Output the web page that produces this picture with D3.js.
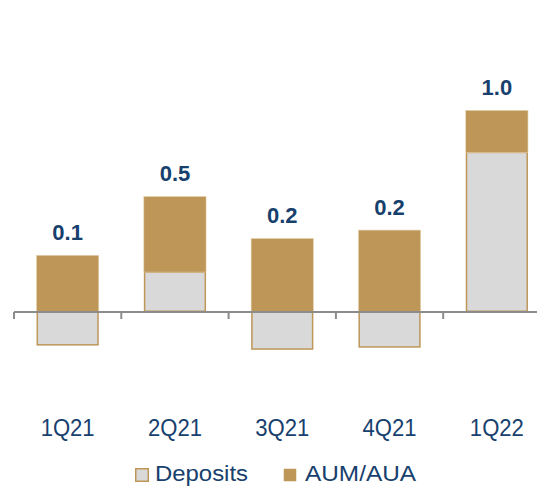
<!DOCTYPE html>
<html>
<head>
<meta charset="utf-8">
<script src="https://cdn.jsdelivr.net/npm/d3@7"></script>
<style>
  html, body { margin: 0; padding: 0; background: #fff; }
  svg { display: block; }
</style>
</head>
<body>
<svg id="chart" width="537" height="488"></svg>
<script>
const categories = ["1Q21", "2Q21", "3Q21", "4Q21", "1Q22"];
const deposits = [-0.16, 0.19, -0.18, -0.17, 0.76];
const aumAua = [0.27, 0.36, 0.35, 0.39, 0.20];
const totalLabels = ["0.1", "0.5", "0.2", "0.2", "1.0"];
const seriesNames = ["Deposits", "AUM/AUA"];

const W = 537, H = 488;
const navy = "#17406d";
const gold = "#bd9658";
const grey = "#d9d9d9";
const axisGrey = "#8c8c8c";

const svg = d3.select("#chart");

const x = d3.scaleBand().domain(categories).range([14, 550.5]).paddingInner(0.42).paddingOuter(0.21);
const y = d3.scaleLinear().domain([-0.4, 1.2]).range([396, 60]);

const rows = categories.map((c, i) => ({ c, dep: deposits[i], aum: aumAua[i], label: totalLabels[i] }));

// Deposits bars
svg.append("g").selectAll("rect").data(rows).join("rect")
  .attr("x", d => x(d.c) + 0.75)
  .attr("width", x.bandwidth() - 1.5)
  .attr("y", d => d.dep >= 0 ? y(d.dep) : y(0))
  .attr("height", d => Math.abs(y(d.dep) - y(0)) - 0.75)
  .attr("fill", grey)
  .attr("stroke", gold)
  .attr("stroke-width", 1.5);

// AUM/AUA bars stacked on positive deposits
svg.append("g").selectAll("rect").data(rows).join("rect")
  .attr("x", d => x(d.c))
  .attr("width", x.bandwidth())
  .attr("y", d => y(Math.max(0, d.dep) + d.aum))
  .attr("height", d => y(Math.max(0, d.dep)) - y(Math.max(0, d.dep) + d.aum))
  .attr("fill", gold)
  .attr("stroke", "#e6d2b0")
  .attr("stroke-width", 0.6);

// Zero axis line
svg.append("line")
  .attr("x1", x.range()[0]).attr("x2", W)
  .attr("y1", y(0)).attr("y2", y(0))
  .attr("stroke", axisGrey).attr("stroke-width", 2);

// Boundary ticks
const bounds = d3.range(categories.length + 1).map(i => x.range()[0] + i * x.step());
svg.append("g").selectAll("line").data(bounds).join("line")
  .attr("x1", d => d).attr("x2", d => d)
  .attr("y1", y(0)).attr("y2", y(0) + 7)
  .attr("stroke", axisGrey).attr("stroke-width", 2);

// Category labels via axis
const xAxis = svg.append("g")
  .attr("transform", "translate(0,414)")
  .call(d3.axisBottom(x).tickSize(0).tickPadding(0));
xAxis.select(".domain").remove();
xAxis.selectAll("text")
  .attr("y", 22)
  .attr("dy", 0)
  .attr("fill", navy)
  .style("font-family", "'Liberation Sans', Arial, sans-serif")
  .style("font-size", "23px")
  .attr("textLength", 54)
  .attr("lengthAdjust", "spacingAndGlyphs");

// Total labels
svg.append("g").selectAll("text").data(rows).join("text")
  .attr("x", d => x(d.c) + x.bandwidth() / 2)
  .attr("y", d => y(Math.max(0, d.dep) + d.aum) - 15.5)
  .attr("text-anchor", "middle")
  .attr("fill", navy)
  .style("font-family", "'Liberation Sans', Arial, sans-serif")
  .style("font-weight", "bold")
  .style("font-size", "22px")
  .text(d => d.label);

// Legend
const legend = [
  { name: seriesNames[0], fill: grey, stroke: gold, x: 135, tx: 155, tl: 93 },
  { name: seriesNames[1], fill: gold, stroke: "none", x: 283, tx: 305, tl: 111 }
];
const lg = svg.append("g").selectAll("g").data(legend).join("g");
lg.append("rect")
  .attr("x", d => d.x + 0.75).attr("y", 468.75)
  .attr("width", 12.5).attr("height", 12.5)
  .attr("fill", d => d.fill)
  .attr("stroke", d => d.stroke)
  .attr("stroke-width", 1.5);
lg.append("text")
  .attr("x", d => d.tx).attr("y", 481)
  .attr("fill", navy)
  .style("font-family", "'Liberation Sans', Arial, sans-serif")
  .style("font-size", "22.5px")
  .attr("textLength", d => d.tl)
  .attr("lengthAdjust", "spacingAndGlyphs")
  .text(d => d.name);
</script>
</body>
</html>
